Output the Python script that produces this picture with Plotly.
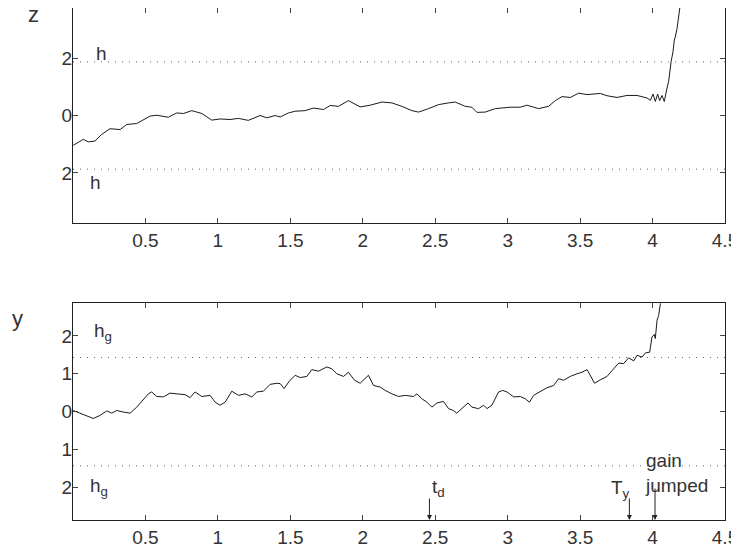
import plotly.graph_objects as go

# ---- data ----
z_t = [0.002, 0.071, 0.106, 0.152, 0.198, 0.255, 0.325, 0.371, 0.44, 0.532, 0.578, 0.658, 0.716, 0.762,
       0.82, 0.889, 0.958, 1.015, 1.084, 1.142, 1.21, 1.291, 1.338, 1.395, 1.43, 1.487,
       1.533, 1.602, 1.66, 1.729, 1.775, 1.832, 1.901, 1.982, 2.051, 2.132, 2.201, 2.27, 2.339,
       2.385, 2.454, 2.523, 2.592, 2.638, 2.707, 2.753, 2.788, 2.845, 2.914, 2.972, 3.018, 3.087,
       3.133, 3.214, 3.282, 3.329, 3.375, 3.432, 3.49, 3.548, 3.639, 3.686, 3.755, 3.824, 3.893,
       3.962, 3.985, 4.003, 4.019, 4.035, 4.049, 4.065, 4.081, 4.10, 4.111, 4.128, 4.141, 4.15,
       4.157, 4.169, 4.187, 4.20]
z_v = [-1.04, -0.83, -0.92, -0.89, -0.66, -0.46, -0.49, -0.31, -0.28, -0.02, 0.01, -0.06, 0.09, 0.07,
       0.17, 0.07, -0.16, -0.12, -0.14, -0.10, -0.17, 0.0, -0.08, 0.0, -0.05, 0.09,
       0.15, 0.17, 0.26, 0.21, 0.35, 0.32, 0.52, 0.30, 0.36, 0.47, 0.44, 0.32, 0.17,
       0.12, 0.24, 0.38, 0.44, 0.47, 0.32, 0.29, 0.11, 0.12, 0.24, 0.27, 0.29, 0.29,
       0.36, 0.24, 0.32, 0.52, 0.66, 0.63, 0.78, 0.73, 0.77, 0.69, 0.63, 0.70, 0.70,
       0.61, 0.53, 0.75, 0.49, 0.75, 0.52, 0.70, 0.49, 0.96, 1.19, 1.88, 2.22, 2.63,
       2.74, 3.03, 3.72, 4.2]

y_t = [0.002, 0.048, 0.106, 0.14, 0.186, 0.233, 0.267, 0.302, 0.348, 0.394, 0.44, 0.486, 0.52, 0.543,
       0.578, 0.624, 0.67, 0.716, 0.773, 0.808, 0.843, 0.889, 0.946, 0.981, 1.015, 1.05, 1.096,
       1.142, 1.188, 1.234, 1.269, 1.314, 1.36, 1.407, 1.43, 1.457, 1.494, 1.533, 1.568, 1.614,
       1.648, 1.694, 1.752, 1.787, 1.821, 1.867, 1.901, 1.943, 1.982, 2.039, 2.074, 2.12, 2.155,
       2.201, 2.247, 2.293, 2.35, 2.373, 2.408, 2.443, 2.477, 2.512, 2.557, 2.592, 2.626, 2.649,
       2.684, 2.726, 2.753, 2.799, 2.834, 2.857, 2.891, 2.937, 2.965, 2.995, 3.041, 3.087, 3.122,
       3.151, 3.179, 3.225, 3.271, 3.317, 3.352, 3.386, 3.432, 3.478, 3.513, 3.548, 3.575, 3.6,
       3.639, 3.686, 3.731, 3.766, 3.80, 3.835, 3.87, 3.893, 3.928, 3.95, 3.98, 3.996, 4.012,
       4.019, 4.031, 4.042, 4.054, 4.07]
y_v = [0.03, -0.04, -0.14, -0.18, -0.10, 0.02, -0.04, 0.03, -0.01, -0.04, 0.12, 0.32, 0.47, 0.52,
       0.40, 0.39, 0.49, 0.47, 0.45, 0.37, 0.52, 0.40, 0.43, 0.25, 0.17, 0.25, 0.54,
       0.43, 0.47, 0.39, 0.52, 0.54, 0.72, 0.75, 0.74, 0.61, 0.81, 0.96, 0.90, 0.93,
       1.11, 1.07, 1.18, 1.13, 1.00, 0.93, 1.04, 0.83, 0.75, 0.96, 0.69, 0.65, 0.56,
       0.47, 0.40, 0.43, 0.40, 0.47, 0.34, 0.25, 0.12, 0.23, 0.27, 0.08, 0.03, -0.04,
       0.08, 0.23, 0.12, 0.08, 0.17, 0.08, 0.17, 0.52, 0.56, 0.52, 0.39, 0.40, 0.34,
       0.25, 0.43, 0.54, 0.63, 0.69, 0.87, 0.83, 0.93, 1.00, 1.04, 1.11, 0.91, 0.75,
       0.84, 0.93, 1.13, 1.28, 1.27, 1.42, 1.34, 1.49, 1.44, 1.55, 1.57, 1.97, 2.04,
       1.93, 2.41, 2.54, 2.85, 3.4]

h = 1.87
h_g = 1.43
x_ticks = [0.5, 1, 1.5, 2, 2.5, 3, 3.5, 4, 4.5]
x_tick_labels = ["0.5", "1", "1.5", "2", "2.5", "3", "3.5", "4", "4.5"]
z_ticks = [-2, 0, 2]
z_tick_labels = ["2", "0", "2"]
y_ticks = [-2, -1, 0, 1, 2]
y_tick_labels = ["2", "1", "0", "1", "2"]
t_d = 2.46
T_y = 3.84
t_jump = 4.017

# ---- figure ----
FONT = "Liberation Sans, Arial, Helvetica, sans-serif"
TXT = "#333333"
LINE = "#1a1a1a"

fig = go.Figure()

fig.add_trace(go.Scatter(x=z_t, y=z_v, mode="lines", line=dict(color=LINE, width=1),
                         xaxis="x", yaxis="y", showlegend=False, hoverinfo="skip"))
fig.add_trace(go.Scatter(x=y_t, y=y_v, mode="lines", line=dict(color=LINE, width=1),
                         xaxis="x2", yaxis="y2", showlegend=False, hoverinfo="skip"))

# threshold lines
dot = dict(color="#666666", width=1, dash="1px,6px")
for lvl in (h, -h):
    fig.add_trace(go.Scatter(x=[0, 4.5], y=[lvl, lvl], mode="lines", line=dot,
                             xaxis="x", yaxis="y", showlegend=False, hoverinfo="skip"))
for lvl in (h_g, -h_g):
    fig.add_trace(go.Scatter(x=[0, 4.5], y=[lvl, lvl], mode="lines", line=dot,
                             xaxis="x2", yaxis="y2", showlegend=False, hoverinfo="skip"))

axis_common = dict(showline=True, mirror="ticks", linecolor="#222222", linewidth=1.3,
                   ticks="inside", ticklen=5, tickwidth=1, tickcolor="#444444",
                   showgrid=False, zeroline=False,
                   tickfont=dict(family=FONT, size=19, color=TXT))

fig.update_layout(
    width=731, height=544,
    margin=dict(l=65, r=14, t=0, b=32, autoexpand=False),
    paper_bgcolor="white", plot_bgcolor="white",
    xaxis=dict(domain=[0, 1], range=[0, 4.5], tickvals=x_ticks, ticktext=x_tick_labels,
               anchor="y", **axis_common),
    yaxis=dict(domain=[0.58, 1], range=[-3.75, 3.75], tickvals=z_ticks, ticktext=z_tick_labels,
               anchor="x", ticklabelstandoff=-4, **axis_common),
    xaxis2=dict(domain=[0, 1], range=[0, 4.5], tickvals=x_ticks, ticktext=x_tick_labels,
                anchor="y2", **axis_common),
    yaxis2=dict(domain=[0, 0.4232], range=[-2.86, 2.86], tickvals=y_ticks, ticktext=y_tick_labels,
                anchor="x2", ticklabelstandoff=-4, **axis_common),
)

ann = []
tf = dict(family=FONT, size=19, color=TXT)
# axis name labels
ann.append(dict(text="z", x=-0.072, y=1.0156, xref="paper", yref="paper", showarrow=False,
                yanchor="top", font=dict(family=FONT, size=22, color=TXT)))
ann.append(dict(text="y", x=-0.0966, y=0.393, xref="paper", yref="paper", showarrow=False,
                font=dict(family=FONT, size=22, color=TXT)))
# h labels
ann.append(dict(text="h", x=0.2, y=2.16, xref="x", yref="y", showarrow=False, font=tf))
ann.append(dict(text="h", x=0.155, y=-2.33, xref="x", yref="y", showarrow=False, font=tf))
ann.append(dict(text="h<sub>g</sub>", x=0.204, y=2.09, xref="x2", yref="y2", showarrow=False, font=tf))
ann.append(dict(text="h<sub>g</sub>", x=0.18, y=-2.0, xref="x2", yref="y2", showarrow=False, font=tf))
# event labels
ann.append(dict(text="t<sub>d</sub>", x=2.52, y=-2.02, xref="x2", yref="y2", showarrow=False, font=tf))
ann.append(dict(text="T<sub>y</sub>", x=3.78, y=-2.05, xref="x2", yref="y2", showarrow=False, font=tf))
ann.append(dict(text="gain<br>jumped", x=3.936, y=-1.63, xref="x2", yref="y2", showarrow=False,
                xanchor="left", align="left", font=tf))
# arrows
for xv, length in ((t_d, 23), (T_y, 23), (t_jump, 33)):
    ann.append(dict(text="", x=xv, y=-2.86, xref="x2", yref="y2", showarrow=True,
                    ax=0, ay=-length, arrowhead=2, arrowsize=1, arrowwidth=1, arrowcolor="#222222"))

fig.update_layout(annotations=ann)

fig.write_html("out.html")
